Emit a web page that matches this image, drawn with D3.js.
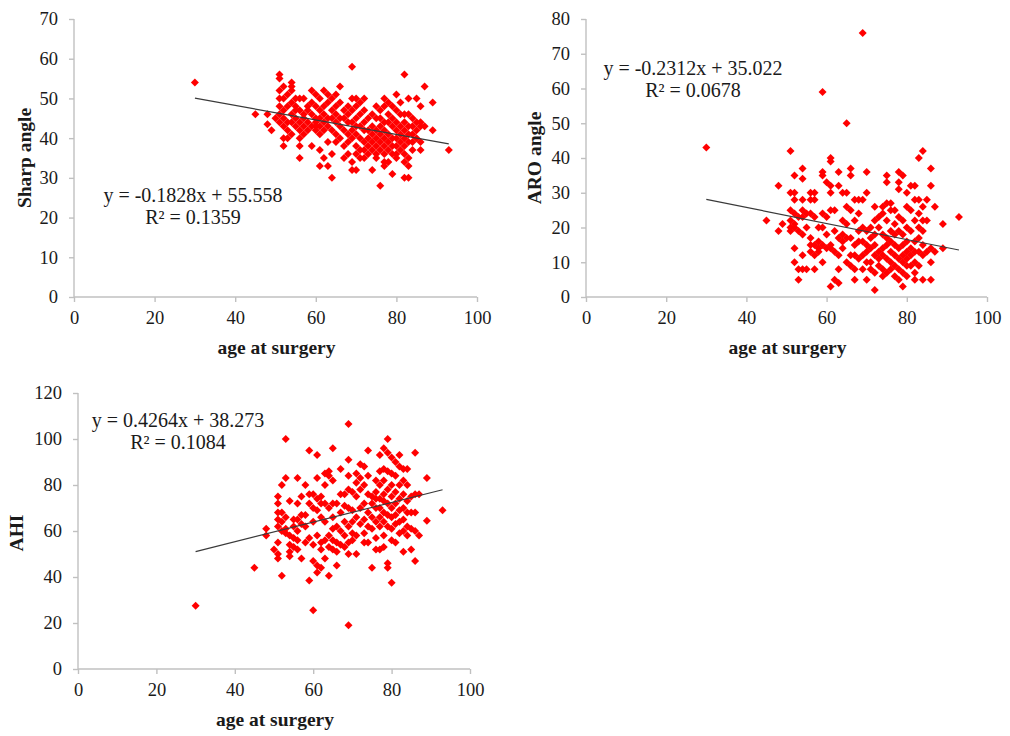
<!DOCTYPE html>
<html>
<head>
<meta charset="utf-8">
<script src="https://cdn.jsdelivr.net/npm/d3@7"></script>
<style>
body{margin:0;background:#fff;}
svg{display:block;}
.serif text{font-family:'Liberation Serif';fill:#1a1a1a;}
</style>
</head>
<body>
<svg id="chart" class="serif" width="1010" height="736"></svg>
<script>
// ---------- DATA ----------
const xTicks = [0, 20, 40, 60, 80, 100];
const sharpTicks = [0, 10, 20, 30, 40, 50, 60, 70];
const aroTicks = [0, 10, 20, 30, 40, 50, 60, 70, 80];
const ahiTicks = [0, 20, 40, 60, 80, 100, 120];

// [age at surgery, [values observed at that age]]
const sharpColumns = [
  [30,[54]],[45,[46]],[48,[46,43.5]],[49,[42]],[50,[45]],
  [51,[56,55,52,50,48,46,44]],[52,[53,50,47,45,43,40,38]],[53,[51,48,44,42,40]],
  [54,[54,53,52,49,46,44,41]],[55,[50,48,45,43,47]],[56,[50,47,44,42,40,38,35]],
  [57,[50,46,45,43,41]],[58,[48,47,44,42]],[59,[52,49,46,43,38]],
  [60,[51,48,45,43,42,44]],[61,[50,47,45,43,41,37,33]],[62,[52,48,46,44,42,35]],
  [63,[51,49,45,43,39,33]],[64,[50,47,45,42,36,30]],[65,[51,48,46,44,41,39]],
  [66,[53,49,45,43,40]],[67,[47,45,42,38,35]],[68,[48,46,44,41,39,36]],
  [69,[58,50,47,44,42,40,34,32]],[70,[50,48,45,43,41,38,36,32]],[71,[49,46,43,40,37,35]],
  [72,[50,47,44,42,39,37,35]],[73,[45,42,40,38,36]],[74,[46,43,41,39,37,32]],
  [75,[48,45,42,40,38,35,36]],[76,[47,45,43,41,39,37,28]],[77,[50,48,44,42,40,38,36,34,33]],
  [78,[49,46,44,41,39,37,34]],[79,[48,45,43,40,38,36,31]],[80,[51,47,44,42,40,38,36,35]],
  [81,[49,46,43,41,39,37]],[82,[56,46,44,42,40,38,36,34,30]],[83,[50,46,43,41,39,35,33,30]],
  [84,[45,43,41,39,37]],[85,[50,44,42,40]],[86,[48,44,43,39,37]],[87,[53,43]],
  [89,[49,42]],[93,[37]]
];
const aroColumns = [
  [30,[43]],[45,[22]],[48,[32,19]],[49,[21]],
  [51,[42,30,25,22,20,19]],[52,[35,30,28,24,21,20,14,10]],[53,[23,19,8,5]],
  [54,[37,34,28,25,23,18,12,8]],[55,[24,20,8]],[56,[30,28,24,15,13,17]],
  [57,[30,28,23,15,12,8]],[58,[16,14,13,20]],[59,[59,36,35,24,20,15,10]],
  [60,[33,23,18,14]],[61,[40,39,32,30,25,15,14,3]],[62,[25,19,13,5]],
  [63,[36,32,17,12,8,4]],[64,[30,22,18,16,14]],[65,[50,30,26,21,17,10]],
  [66,[37,35,25,17,12,9]],[67,[28,22,15,12,8,5]],[68,[28,24,19,16,11]],
  [69,[76,28,20,16,12,8]],[70,[36,30,19,15,13,10,5]],[71,[20,17,14,10,8]],
  [72,[26,22,18,15,12,7,2]],[73,[23,20,13,11,9]],[74,[26,24,18,14,12,8,6]],
  [75,[35,33,27,22,17,15,11,7]],[76,[27,25,19,16,13,10,8]],[77,[25,21,18,15,12,9,6]],
  [78,[36,33,31,23,19,14,11,8,5]],[79,[35,22,18,15,12,10,7,3]],[80,[30,26,20,16,13,11,9,6]],
  [81,[32,25,19,14,12,9]],[82,[32,28,22,16,13,10,7,5]],[83,[40,28,24,20,17,13,9]],
  [84,[42,26,22,19,15,12,5]],[85,[28,22,13]],[86,[37,32,14,10,5]],[87,[26,13]],
  [89,[21,14]],[93,[23]]
];
const ahiColumns = [
  [30,[27.5]],[45,[44]],[48,[61,58]],[50,[52]],
  [51,[75,72,68,65,62,55,50,48]],[52,[80,68,64,60,40.5]],[53,[100,83,66,61,59]],
  [54,[73,58,54,51,49]],[55,[65,62,57,53]],[56,[83,72,65,60,56,52]],
  [57,[75,67,63,48]],[58,[80,67,62,55]],[59,[95,76,72,57,38.5]],
  [60,[76,70,64,54,47,25.5]],[61,[93,83,74,69,58,45,42]],[62,[75,72,66,55,52,44]],
  [63,[85,80,72,64,56,48]],[64,[86,84,70,58,53,40.5]],[65,[96,82,72,66,61,56,52]],
  [66,[72,62,55,51,45]],[67,[87,76,68,60,54]],[68,[76,71,64,58,53]],
  [69,[106.5,91,84,78,70,62,55,50,19]],[70,[77,69,64,59,56]],[71,[85,81,75,66,58,50]],
  [72,[89,83,78,70,63]],[73,[88,80,72,65,59,55]],[74,[95,84,76,68,62,55]],
  [75,[75,72,66,61,44]],[76,[82,77,74,70,64,57,52]],[77,[93,86,80,74,70,66,62,52]],
  [78,[96,87,82,76,73,68,64,58,53]],[79,[100,94,86,78,72,67,62,46,44]],
  [80,[92,85,80,75,70,66,61,56,37.5]],[81,[90,84,77,72,67,63,55]],
  [82,[93,88,80,74,69,64,59]],[83,[87,82,76,70,65,60,51]],[84,[87,80,73,68,62,58]],
  [85,[75,68,61,52]],[86,[94,76,68,60,47]],[87,[76,58]],[89,[83,64.5]],[93,[69]]
];

const trendRange = [30, 93];
const sharpFit = {slope: -0.1828, intercept: 55.558, eq: "y = -0.1828x + 55.558", r2: "R² = 0.1359"};
const aroFit = {slope: -0.2312, intercept: 35.022, eq: "y = -0.2312x + 35.022", r2: "R² = 0.0678"};
const ahiFit = {slope: 0.4264, intercept: 38.273, eq: "y = 0.4264x + 38.273", r2: "R² = 0.1084"};

// ---------- DRAW ----------
const svg = d3.select("#chart");
const AXIS_COLOR = "#c0c0c0";
const TICK_FONT = 18.5;
const EQ_FONT = 20;
const TITLE_FONT = 19.5;

function flatten(cols){
  const out = [];
  cols.forEach(([age, vals]) => vals.forEach(v => out.push({x: age, y: v})));
  return out;
}

function panel(cfg){
  const x = d3.scaleLinear().domain([0, 100]).range([cfg.left, cfg.right]);
  const y = d3.scaleLinear().domain([0, cfg.ymax]).range([cfg.bottom, cfg.top]);
  const g = svg.append("g");

  const xa = g.append("g").attr("transform", `translate(0,${cfg.bottom})`)
    .call(d3.axisBottom(x).tickValues(xTicks).tickSize(5).tickPadding(9).tickFormat(d3.format("d")));
  const ya = g.append("g").attr("transform", `translate(${cfg.left},0)`)
    .call(d3.axisLeft(y).tickValues(cfg.yTicks).tickSize(5).tickPadding(11).tickFormat(d3.format("d")));
  [xa, ya].forEach(a => {
    a.attr("font-family", null).attr("font-size", null);
    a.select(".domain").attr("stroke", AXIS_COLOR).attr("stroke-width", 1.4);
    a.selectAll(".tick line").attr("stroke", AXIS_COLOR).attr("stroke-width", 1.4);
    a.selectAll(".tick text").attr("font-size", TICK_FONT).attr("fill", "#1a1a1a");
  });
  xa.select(".domain").attr("d", `M${cfg.left},0H${cfg.right}`);
  ya.select(".domain").attr("d", `M0,${cfg.bottom}V${cfg.top}`);

  // points
  const sym = d3.symbol().type(d3.symbolSquare).size(32);
  g.append("g").selectAll("path").data(flatten(cfg.data)).join("path")
    .attr("d", sym)
    .attr("transform", d => `translate(${x(d.x)},${y(d.y)}) rotate(45)`)
    .attr("fill", "#ff0000");

  // trend line
  g.append("line")
    .attr("x1", x(trendRange[0])).attr("y1", y(cfg.fit.slope * trendRange[0] + cfg.fit.intercept))
    .attr("x2", x(trendRange[1])).attr("y2", y(cfg.fit.slope * trendRange[1] + cfg.fit.intercept))
    .attr("stroke", "#3a3a3a").attr("stroke-width", 1.2);

  // equation
  g.append("text").attr("x", cfg.eqX).attr("y", cfg.eqY).attr("text-anchor", "middle")
    .attr("dominant-baseline", "central").attr("font-size", EQ_FONT).text(cfg.fit.eq);
  g.append("text").attr("x", cfg.eqX).attr("y", cfg.eqY + 22).attr("text-anchor", "middle")
    .attr("dominant-baseline", "central").attr("font-size", EQ_FONT).text(cfg.fit.r2);

  // axis titles
  g.append("text").attr("x", (cfg.left + cfg.right) / 2 + 1).attr("y", cfg.bottom + 50)
    .attr("text-anchor", "middle").attr("dominant-baseline", "central")
    .attr("font-size", TITLE_FONT).attr("font-weight", "bold").text("age at surgery");
  g.append("text").attr("transform", `translate(${cfg.yTitleX},${cfg.yTitleY}) rotate(-90)`)
    .attr("text-anchor", "middle").attr("dominant-baseline", "central")
    .attr("font-size", TITLE_FONT).attr("font-weight", "bold").text(cfg.yTitle);
}

panel({left: 74, right: 477, top: 19, bottom: 297, ymax: 70, yTicks: sharpTicks,
  data: sharpColumns, fit: sharpFit, eqX: 193, eqY: 195, yTitle: "Sharp angle", yTitleX: 24, yTitleY: 158});
panel({left: 586, right: 987, top: 19, bottom: 297, ymax: 80, yTicks: aroTicks,
  data: aroColumns, fit: aroFit, eqX: 693, eqY: 68, yTitle: "ARO angle", yTitleX: 534, yTitleY: 158});
panel({left: 78, right: 470, top: 393, bottom: 669, ymax: 120, yTicks: ahiTicks,
  data: ahiColumns, fit: ahiFit, eqX: 178, eqY: 420, yTitle: "AHI", yTitleX: 16, yTitleY: 533});
</script>
</body>
</html>
